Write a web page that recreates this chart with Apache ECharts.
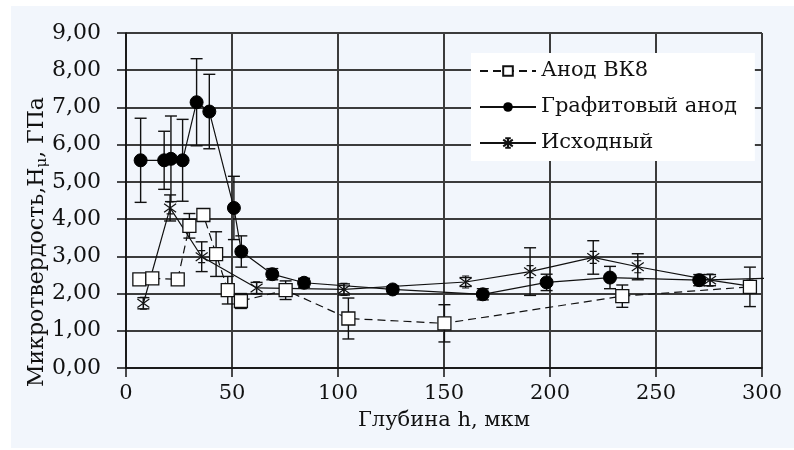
<!DOCTYPE html>
<html lang="ru">
<head>
    <meta charset="UTF-8">
    <title>Микротвердость</title>
    <script src="https://cdn.jsdelivr.net/npm/echarts@6/dist/echarts.min.js"></script>
</head>
<style>
    *{
        margin: 0px;
    }
    body{
        background: #ffffff;
    }
    /*фон графика*/
    #main{
        position: absolute;
        left: 11px;
        top: 6px;
        width: 783px;
        height: 442px;
    }
</style>
<body>
<div id="main"></div>
<script type="text/javascript">
    // Анод ВК8
    var vkX   = [6.3, 12.4, 24.4, 29.9, 36.5, 42.5, 48.0, 54.2, 75.3, 104.9, 150.2, 234.1, 294.3];
    var vkY   = [2.38, 2.41, 2.38, 3.82, 4.11, 3.06, 2.09, 1.80, 2.09, 1.33, 1.20, 1.93, 2.18];
    var vkErr = [0.10, 0.10, 0.10, 0.33, 0.10, 0.60, 0.37, 0.20, 0.25, 0.55, 0.50, 0.30, 0.53];
    // Графитовый анод
    var grX   = [6.9, 18.0, 21.2, 26.7, 33.3, 39.3, 50.9, 54.4, 69.0, 84.0, 125.8, 168.3, 198.4, 228.3, 270.4, 310];
    var grY   = [5.58, 5.58, 5.62, 5.58, 7.14, 6.89, 4.30, 3.13, 2.52, 2.29, 2.11, 1.98, 2.30, 2.43, 2.36, 2.42];
    var grErr = [1.13, 0.78, 1.15, 1.10, 1.17, 1.00, 0.85, 0.42, 0.15, 0.12, 0.10, 0.15, 0.22, 0.30, 0.15, 0];
    // Исходный
    var isX   = [8.2, 20.8, 35.7, 61.6, 102.8, 160.2, 190.6, 220.4, 241.4, 275.5, 294.3];
    var isY   = [1.74, 4.30, 2.99, 2.15, 2.11, 2.31, 2.59, 2.97, 2.72, 2.36, 2.20];
    var isErr = [0.15, 0.35, 0.40, 0.15, 0.15, 0.12, 0.64, 0.45, 0.35, 0.15, 0];

    var xTicks = [0, 50, 100, 150, 200, 250, 300];
    var yTicks = [0, 1, 2, 3, 4, 5, 6, 7, 8, 9];

    var FONT = 'DejaVu Serif';
    var asterisk = 'path://M5,0 L5,10 M0.7,1.5 L9.3,8.5 M0.7,8.5 L9.3,1.5 M2.5,0 L7.5,0 M2.5,10 L7.5,10';

    function pts(xs, ys){
        return xs.map(function(x, i){ return [x, ys[i]]; });
    }
    function bars(xs, ys, es){
        return xs.map(function(x, i){ return [x, ys[i] - es[i], ys[i] + es[i]]; });
    }
    // усы погрешности
    function errRender(params, api){
        if (api.value(2) - api.value(1) <= 0) return;
        var lo = api.coord([api.value(0), api.value(1)]);
        var hi = api.coord([api.value(0), api.value(2)]);
        var w = 6;
        var st = {stroke: '#111', lineWidth: 1.4};
        return {
            type: 'group',
            children: [
                {type: 'line', shape: {x1: lo[0], y1: lo[1], x2: hi[0], y2: hi[1]}, style: st},
                {type: 'line', shape: {x1: lo[0] - w, y1: lo[1], x2: lo[0] + w, y2: lo[1]}, style: st},
                {type: 'line', shape: {x1: hi[0] - w, y1: hi[1], x2: hi[0] + w, y2: hi[1]}, style: st}
            ]
        };
    }
    function errSeries(xs, ys, es){
        return {
            type: 'custom', renderItem: errRender, data: bars(xs, ys, es),
            encode: {x: 0, y: [1, 2]}, z: 1, silent: true
        };
    }

    var myChart = echarts.init(document.getElementById('main'));
    var option = {
        animation: false,
        backgroundColor: '#f2f6fc',
        grid: {left: 115, right: 32, top: 27, bottom: 80},
        legend: {
            orient: 'vertical',
            left: 460, top: 47,
            data: ['Анод ВК8', 'Графитовый анод', 'Исходный'],
            backgroundColor: '#ffffff',
            padding: [6, 18, 6, 8],
            itemGap: 12,
            itemWidth: 56, itemHeight: 12,
            textStyle: {fontFamily: FONT, fontSize: 21, color: '#111', lineHeight: 24}
        },
        graphic: [{
            type: 'text',
            x: 26, y: 236,
            rotation: Math.PI / 2,
            style: {
                text: '{a|Микротвердость,H}{s|μ}{a|, ГПа}',
                align: 'center', verticalAlign: 'middle',
                rich: {
                    a: {fontFamily: FONT, fontSize: 22, fill: '#111'},
                    s: {fontFamily: FONT, fontSize: 15, fill: '#111', padding: [10, 0, 0, 0]}
                }
            }
        }],
        xAxis: {
            type: 'value', min: xTicks[0], max: xTicks[xTicks.length - 1], interval: 50,
            name: 'Глубина h, мкм', nameLocation: 'middle', nameGap: 42,
            nameTextStyle: {fontFamily: FONT, fontSize: 21, color: '#111'},
            axisLine: {lineStyle: {color: '#111', width: 1.5}},
            axisTick: {show: true, length: 9, lineStyle: {color: '#111', width: 1.5}},
            axisLabel: {margin: 15, fontFamily: FONT, fontSize: 21, color: '#111'},
            splitLine: {show: true, lineStyle: {color: '#3c3c3c', width: 2}}
        },
        yAxis: {
            type: 'value', min: yTicks[0], max: yTicks[yTicks.length - 1], interval: 1,
            axisLine: {show: true, lineStyle: {color: '#111', width: 1.5}},
            axisTick: {show: true, length: 9, lineStyle: {color: '#111', width: 1.5}},
            axisLabel: {
                margin: 25, fontFamily: FONT, fontSize: 22, color: '#111',
                formatter: function(v){ return v.toFixed(2).replace('.', ','); }
            },
            splitLine: {show: true, lineStyle: {color: '#3c3c3c', width: 2}}
        },
        series: [
            errSeries(vkX, vkY, vkErr),
            errSeries(grX, grY, grErr),
            errSeries(isX, isY, isErr),
            {
                name: 'Анод ВК8', type: 'line', data: pts(vkX, vkY),
                symbol: 'rect', symbolSize: 13, z: 5,
                lineStyle: {color: '#111', width: 1.2, type: [8, 5]},
                itemStyle: {color: '#ffffff', borderColor: '#111', borderWidth: 1.3}
            },
            {
                name: 'Графитовый анод', type: 'line', data: pts(grX, grY),
                symbol: 'circle', symbolSize: 13, z: 4, clip: true,
                lineStyle: {color: '#111', width: 1.2},
                itemStyle: {color: '#000', borderColor: '#000'}
            },
            {
                name: 'Исходный', type: 'line', data: pts(isX, isY),
                symbol: asterisk, symbolSize: 12, z: 3,
                lineStyle: {color: '#111', width: 1.2},
                itemStyle: {color: 'none', borderColor: '#111', borderWidth: 1.2}
            }
        ]
    };
    myChart.setOption(option);
</script>
</body>
</html>
